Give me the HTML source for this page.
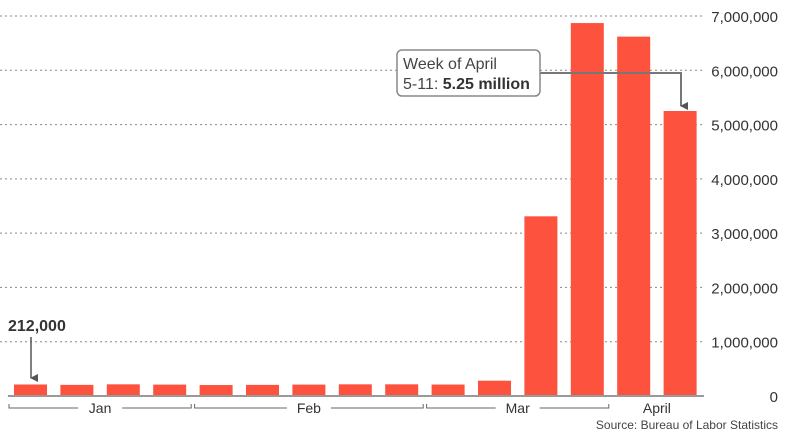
<!DOCTYPE html>
<html><head><meta charset="utf-8"><style>
body{margin:0;background:#fff;width:787px;height:435px;overflow:hidden;font-family:"Liberation Sans",sans-serif}
</style></head><body>
<svg id="c" width="787" height="435">
<defs><marker id="ar" markerWidth="8" markerHeight="8" refX="4" refY="7" orient="auto" markerUnits="userSpaceOnUse"><path d="M0,0 L8,0 L4,8 Z" fill="#555"/></marker></defs>
<g id="grid"></g><g id="bars"></g>
<line x1="8" y1="396" x2="704" y2="396" stroke="#999" stroke-width="2"/>
<g id="months" font-size="14" fill="#333" stroke="#666"></g>
<text x="778" y="429" text-anchor="end" font-size="12" fill="#444">Source: Bureau of Labor Statistics</text>
<text x="8" y="331" font-size="16" font-weight="bold" fill="#333">212,000</text>
<line x1="31" y1="337" x2="31" y2="378" stroke="#555" stroke-width="1.5" marker-end="url(#ar)"/>
<polyline points="540,73 681,73 681,106" fill="none" stroke="#777" stroke-width="2" marker-end="url(#ar)"/>
<rect x="397" y="50" width="143" height="46" rx="5" fill="#fff" stroke="#888" stroke-width="1.5"/>
<text x="403" y="69" font-size="16" fill="#444">Week of April</text>
<text x="403" y="89" font-size="16" fill="#444">5-11: <tspan font-weight="bold" fill="#333">5.25 million</tspan></text>
</svg>
<script>
const weeks=["Jan 4","Jan 11","Jan 18","Jan 25","Feb 1","Feb 8","Feb 15","Feb 22","Feb 29","Mar 7","Mar 14","Mar 21","Mar 28","Apr 4","Apr 11"];
const claims=[212000,205000,215000,210000,202000,205000,210000,215000,215000,211000,282000,3310000,6870000,6620000,5250000];
const ticks=[0,1000000,2000000,3000000,4000000,5000000,6000000,7000000];
const months=["Jan","Feb","Mar"];
const monthSpan=[[0,3],[4,8],[9,12]];
const NS="http://www.w3.org/2000/svg";
const y=v=>396-v*(380/7000000);
const x=i=>14+i*46.4;
const bw=33;
function mk(t,a,p){const e=document.createElementNS(NS,t);for(const k in a)e.setAttribute(k,a[k]);p.appendChild(e);return e;}
const g=document.getElementById('grid');
ticks.forEach(t=>{
 if(t>0){const l=mk('line',{x1:0,x2:704,y1:y(t),y2:y(t),stroke:'#888','stroke-dasharray':'2,3','stroke-width':1},g);
 
 }
 const tx=mk('text',{x:778,y:y(t)+6,'text-anchor':'end','font-size':15,fill:'#333'},g);
 tx.textContent=t.toLocaleString('en-US');
 
 
});
const b=document.getElementById('bars');
claims.forEach((v,i)=>{
 const r=mk('rect',{x:x(i),y:y(v),width:bw,height:396-y(v),fill:'#fd523e'},b);
 
 
});
const m=document.getElementById('months');
months.forEach((n,k)=>{
 const x0=x(monthSpan[k][0])-5,x1=x(monthSpan[k][1])+bw+5,c=(x0+x1)/2,yy=408;
 const p=mk('path',{d:`M${x0},${yy-4}V${yy}H${c-22}M${c+22},${yy}H${x1}V${yy-4}`,fill:'none','stroke-width':1},m);
 
 
 const t=mk('text',{x:c,y:yy+5,'text-anchor':'middle',stroke:'none'},m);t.textContent=n;
 
 
});
const a=mk('text',{x:x(13.5)+bw/2,y:413,'text-anchor':'middle',stroke:'none'},m);a.textContent='April';


</script>
</body></html>
